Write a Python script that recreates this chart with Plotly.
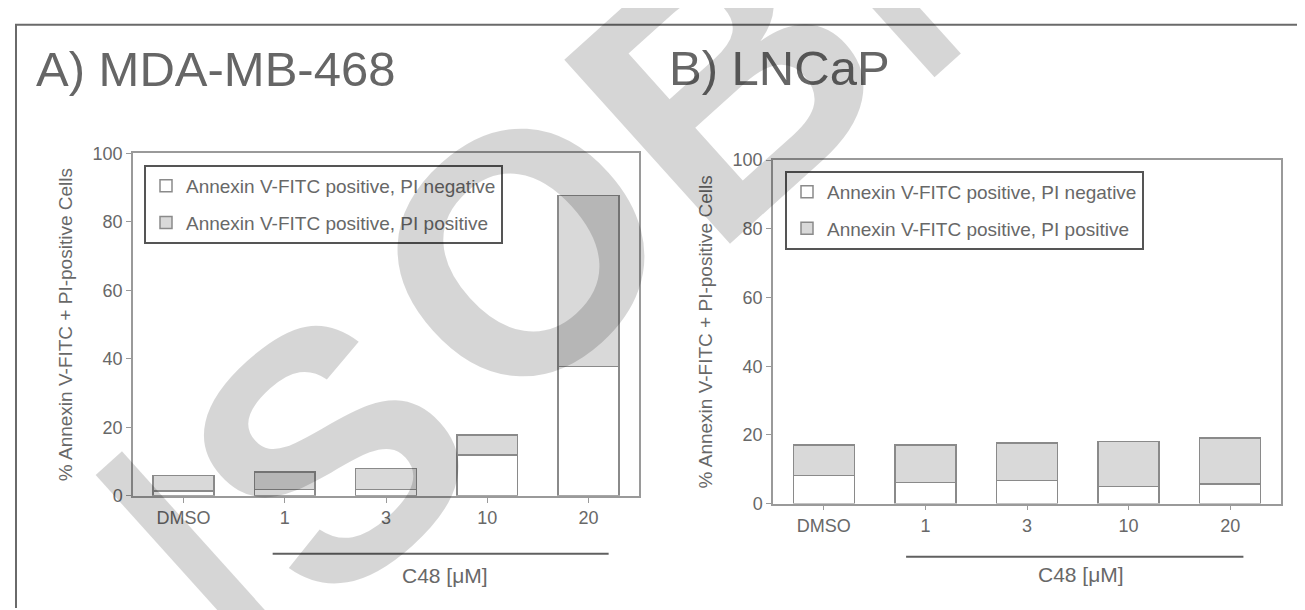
import plotly.graph_objects as go

# ---- data ----
categories = ["DMSO", "1", "3", "10", "20"]
mda_pi_negative = [1.4, 1.8, 1.8, 11.9, 37.7]
mda_pi_positive = [4.5, 5.2, 6.1, 5.8, 50.0]
lncap_pi_negative = [8.1, 6.2, 6.7, 5.0, 5.7]
lncap_pi_positive = [8.9, 10.8, 10.9, 13.1, 13.4]
y_ticks = [0, 20, 40, 60, 80, 100]
series_names = ["Annexin V-FITC positive, PI negative",
                "Annexin V-FITC positive, PI positive"]

W, H = 1305, 610
FONT = "Liberation Sans, Arial, sans-serif"
TXT = "#686868"
AX = "#9a9a9a"
BAR_LINE = "#8a8a8a"
FILL_POS = "#d9d9d9"

fig = go.Figure()

def add_bars(neg, pos, xa, ya, legend):
    fig.add_trace(go.Bar(x=categories, y=neg, name=series_names[0],
                         marker=dict(color="white", line=dict(color=BAR_LINE, width=1.5)),
                         width=0.6, xaxis=xa, yaxis=ya, legend=legend,
                         legendgroup=legend + "a"))
    fig.add_trace(go.Bar(x=categories, y=pos, name=series_names[1],
                         marker=dict(color=FILL_POS, line=dict(color=BAR_LINE, width=1.5)),
                         width=0.6, xaxis=xa, yaxis=ya, legend=legend,
                         legendgroup=legend + "b"))

add_bars(mda_pi_negative, mda_pi_positive, "x", "y", "legend")
add_bars(lncap_pi_negative, lncap_pi_positive, "x2", "y2", "legend2")

def px_x(v):
    return v / W

def px_y(v):
    return 1 - v / H

xaxis_common = dict(type="category", showline=True, mirror=True, linecolor=AX, linewidth=1.5,
                    ticks="outside", ticklen=5, tickcolor=AX, tickwidth=1,
                    tickfont=dict(family=FONT, size=18, color=TXT),
                    showgrid=False, zeroline=False, range=[-0.5, 4.5], fixedrange=True)
yaxis_common = dict(showline=True, mirror=True, linecolor=AX, linewidth=1.5,
                    ticks="outside", ticklen=5, tickcolor=AX, tickwidth=1,
                    tickvals=y_ticks, range=[0, 100],
                    tickfont=dict(family=FONT, size=18, color=TXT),
                    showgrid=False, zeroline=False,
                    title=dict(text="% Annexin V-FITC + PI-positive Cells",
                               font=dict(family=FONT, size=19, color=TXT), standoff=15))

legend_common = dict(xanchor="left", yanchor="top", bgcolor="white",
                     bordercolor="#555555", borderwidth=2,
                     font=dict(family=FONT, size=19, color=TXT),
                     traceorder="grouped", tracegroupgap=9)

fig.update_layout(
    width=W, height=H,
    margin=dict(l=0, r=0, t=0, b=0),
    paper_bgcolor="white", plot_bgcolor="white",
    barmode="stack",
    font=dict(family=FONT, color=TXT),
    xaxis=dict(domain=[px_x(125), px_x(631)], anchor="y", **xaxis_common),
    yaxis=dict(domain=[px_y(494), px_y(140)], anchor="x", **yaxis_common),
    xaxis2=dict(domain=[px_x(765), px_x(1273)], anchor="y2", **xaxis_common),
    yaxis2=dict(domain=[px_y(502), px_y(147)], anchor="x2", **yaxis_common),
    legend=dict(x=px_x(136), y=px_y(152), **legend_common),
    legend2=dict(x=px_x(777), y=px_y(158), **legend_common),
)

# panel titles
fig.add_annotation(text="A) MDA-MB-468", xref="paper", yref="paper",
                   x=px_x(26), y=px_y(53), xanchor="left", yanchor="middle",
                   showarrow=False, font=dict(family=FONT, size=49, color="#666666"))
fig.add_annotation(text="B) LNCaP", xref="paper", yref="paper",
                   x=px_x(659), y=px_y(52), xanchor="left", yanchor="middle",
                   showarrow=False, font=dict(family=FONT, size=49, color="#666666"))

# treatment bracket lines and labels
fig.add_shape(type="line", xref="x", yref="paper", x0=0.88, x1=4.2,
              y0=px_y(554), y1=px_y(554), line=dict(color="#606060", width=2))
fig.add_shape(type="line", xref="x2", yref="paper", x0=0.81, x1=4.13,
              y0=px_y(557), y1=px_y(557), line=dict(color="#606060", width=2))
fig.add_annotation(text="C48 [μM]", xref="x", yref="paper", x=2.58, y=px_y(590),
                   showarrow=False, font=dict(family=FONT, size=21, color=TXT))
fig.add_annotation(text="C48 [μM]", xref="x2", yref="paper", x=2.53, y=px_y(589),
                   showarrow=False, font=dict(family=FONT, size=21, color=TXT))

# outer frame (top and left edges)
fig.add_shape(type="line", xref="paper", yref="paper", x0=px_x(7), x1=1.0,
              y0=px_y(7), y1=px_y(7), line=dict(color="#6a6a6a", width=2))
fig.add_shape(type="line", xref="paper", yref="paper", x0=px_x(8), x1=px_x(8),
              y0=px_y(7), y1=0.0, line=dict(color="#6a6a6a", width=2))

# watermark letters (decoration)
watermark = [("I", 188, 560, 380, False), ("S", 320, 450, 350, True),
             ("O", 513, 242, 340, True), ("B", 717, 64, 360, True),
             ("I", 852, -52, 380, False)]
for ch, cx, cy, size, bold in watermark:
    fig.add_annotation(text=f"<b>{ch}</b>" if bold else ch, xref="paper", yref="paper",
                       x=px_x(cx), y=px_y(cy),
                       xanchor="center", yanchor="middle", textangle=-42, showarrow=False,
                       font=dict(family=FONT, size=size, color="rgba(0,0,0,0.16)"))

fig.write_html("out.html")
